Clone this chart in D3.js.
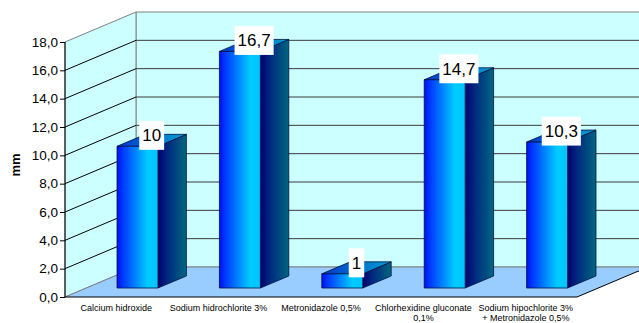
<!DOCTYPE html>
<html>
<head>
<meta charset="utf-8">
<script src="https://cdn.jsdelivr.net/npm/d3@7"></script>
<style>
  html, body { margin: 0; padding: 0; background: #fff; }
  svg { display: block; font-family: "Liberation Sans", Arial, sans-serif; }
</style>
</head>
<body>
<svg id="chart" width="639" height="323"></svg>
<script>
// Zone of inhibition by irrigant (mm)
const categories = [
  ["Calcium hidroxide"],
  ["Sodium hidrochlorite 3%"],
  ["Metronidazole 0,5%"],
  ["Chlorhexidine gluconate", "0,1%"],
  ["Sodium hipochlorite 3%", "+ Metronidazole 0,5%"]
];
const values = [10, 16.7, 1, 14.7, 10.3];
const valueLabels = ["10", "16,7", "1", "14,7", "10,3"];
const yTicks = [0, 2, 4, 6, 8, 10, 12, 14, 16, 18];
const yTickLabels = ["0,0", "2,0", "4,0", "6,0", "8,0", "10,0", "12,0", "14,0", "16,0", "18,0"];
const yTitle = "mm";

const svg = d3.select("#chart");

// Front plane of the 3D box
const x0 = 65, x1 = 577, yBase = 297, yTop = 42;
// Depth vector (full depth of the box)
const DX = 71, DY = -30;

const x = d3.scaleBand().domain(d3.range(categories.length)).range([x0, x1]).padding(0);
const y = d3.scaleLinear().domain([0, 18]).range([yBase, yTop]);

// project a front-plane point back by depth fraction d
const P = (px, py, d) => [px + d * DX, py + d * DY];
const poly = pts => "M" + pts.map(p => p.join(",")).join("L") + "Z";

const defs = svg.append("defs");
function lin(id, stops) {
  const g = defs.append("linearGradient").attr("id", id)
    .attr("x1", 0).attr("y1", 0).attr("x2", 1).attr("y2", 0);
  stops.forEach(([o, c]) => g.append("stop").attr("offset", o).attr("stop-color", c));
}
lin("gFront", [[0, "#0010f0"], [0.12, "#0033ff"], [0.75, "#00ccff"], [1, "#00c4ff"]]);
lin("gSide", [[0, "#000070"], [0.35, "#002a80"], [1, "#006680"]]);
lin("gTop", [[0, "#0038cc"], [1, "#00a0d0"]]);

// Walls and floor
const far = 700;
svg.append("path").attr("d", poly([[x0 + DX, y(18) + DY], [far, y(18) + DY], [far, yBase + DY], [x0 + DX, yBase + DY]]))
  .attr("fill", "#ccffff").attr("stroke", "#808080").attr("stroke-width", 1);
svg.append("path").attr("d", poly([[x0, yBase], [x0, y(18)], P(x0, y(18), 1), P(x0, yBase, 1)]))
  .attr("fill", "#ccffff").attr("stroke", "#808080").attr("stroke-width", 1);
svg.append("path").attr("d", poly([[x0, yBase], [x1, yBase], P(x1, yBase, 1), P(x0, yBase, 1)]))
  .attr("fill", "#99ccff").attr("stroke", "none");

// Gridlines on back wall and diagonals on the side wall
yTicks.filter(t => t > 0 && t < 18).forEach(t => {
  svg.append("line")
    .attr("x1", x0 + DX).attr("y1", y(t) + DY).attr("x2", far).attr("y2", y(t) + DY)
    .attr("stroke", "#3a3a3a").attr("stroke-width", 1);
  svg.append("line")
    .attr("x1", x0).attr("y1", y(t)).attr("x2", x0 + DX).attr("y2", y(t) + DY)
    .attr("stroke", "#000").attr("stroke-width", 1);
});
svg.append("line").attr("x1", x0 + DX).attr("y1", yBase + DY).attr("x2", far).attr("y2", yBase + DY)
  .attr("stroke", "#808080");
svg.append("line").attr("x1", x0).attr("y1", yBase).attr("x2", x0 + DX).attr("y2", yBase + DY)
  .attr("stroke", "#808080");

// Floor front edge and right edge
svg.append("line").attr("x1", x0).attr("y1", yBase).attr("x2", x1).attr("y2", yBase).attr("stroke", "#000");
svg.append("line").attr("x1", x1).attr("y1", yBase).attr("x2", x1 + DX).attr("y2", yBase + DY).attr("stroke", "#000");

// Bars
const d0 = 0.3, d1 = 0.7, bw = 0.4;
const bars = svg.append("g");
values.forEach((v, i) => {
  const bl = x(i) + x.bandwidth() * (1 - bw) / 2;
  const br = bl + x.bandwidth() * bw;
  const yb = y(0), yt = y(v);
  const fBL = P(bl, yb, d0), fBR = P(br, yb, d0), fTL = P(bl, yt, d0), fTR = P(br, yt, d0);
  const kBR = P(br, yb, d1), kTR = P(br, yt, d1), kTL = P(bl, yt, d1);
  bars.append("path").attr("d", poly([fBR, fTR, kTR, kBR])).attr("fill", "url(#gSide)")
    .attr("stroke", "#001040").attr("stroke-width", 0.8);
  bars.append("path").attr("d", poly([fTL, kTL, kTR, fTR])).attr("fill", "url(#gTop)")
    .attr("stroke", "#001040").attr("stroke-width", 0.8);
  bars.append("path").attr("d", poly([fBL, fTL, fTR, fBR])).attr("fill", "url(#gFront)")
    .attr("stroke", "#001040").attr("stroke-width", 0.8);
});

// Left axis line and ticks
svg.append("line").attr("x1", x0).attr("y1", y(0)).attr("x2", x0).attr("y2", y(18)).attr("stroke", "#000");
const yAxis = d3.axisLeft(y).tickValues(yTicks).tickSize(5).tickFormat((d, i) => yTickLabels[i]);
const ag = svg.append("g").attr("transform", `translate(${x0},0)`).call(yAxis);
ag.select(".domain").remove();
ag.selectAll("line").attr("stroke", "#000");
ag.selectAll("text").attr("font-size", 13.5).attr("fill", "#000")
  .attr("font-family", "'Liberation Sans', Arial, sans-serif").attr("x", -7);

// Y title
svg.append("text").attr("transform", "translate(20,165) rotate(-90)")
  .attr("text-anchor", "middle").attr("font-size", 13).attr("font-weight", "bold").text(yTitle);

// Category labels
categories.forEach((lines, i) => {
  const t = svg.append("text").attr("x", x(i) + x.bandwidth() / 2).attr("y", 311)
    .attr("text-anchor", "middle").attr("font-size", 9).attr("fill", "#000");
  lines.forEach((ln, j) => t.append("tspan").attr("x", x(i) + x.bandwidth() / 2)
    .attr("dy", j === 0 ? 0 : 9.5).text(ln));
});

// Value labels in white boxes
values.forEach((v, i) => {
  const cx = x(i) + x.bandwidth() / 2 + 0.5 * DX;
  const cy = y(v) + 0.5 * DY - 5;
  const g = svg.append("g");
  const txt = g.append("text").attr("x", cx).attr("y", cy + 6).attr("text-anchor", "middle")
    .attr("font-size", 17).attr("fill", "#000").text(valueLabels[i]);
  const w = txt.node().getComputedTextLength() + 6;
  g.insert("rect", "text").attr("x", cx - w / 2).attr("y", cy - 14.5).attr("width", w).attr("height", 29)
    .attr("fill", "#fff");
});
</script>
</body>
</html>
